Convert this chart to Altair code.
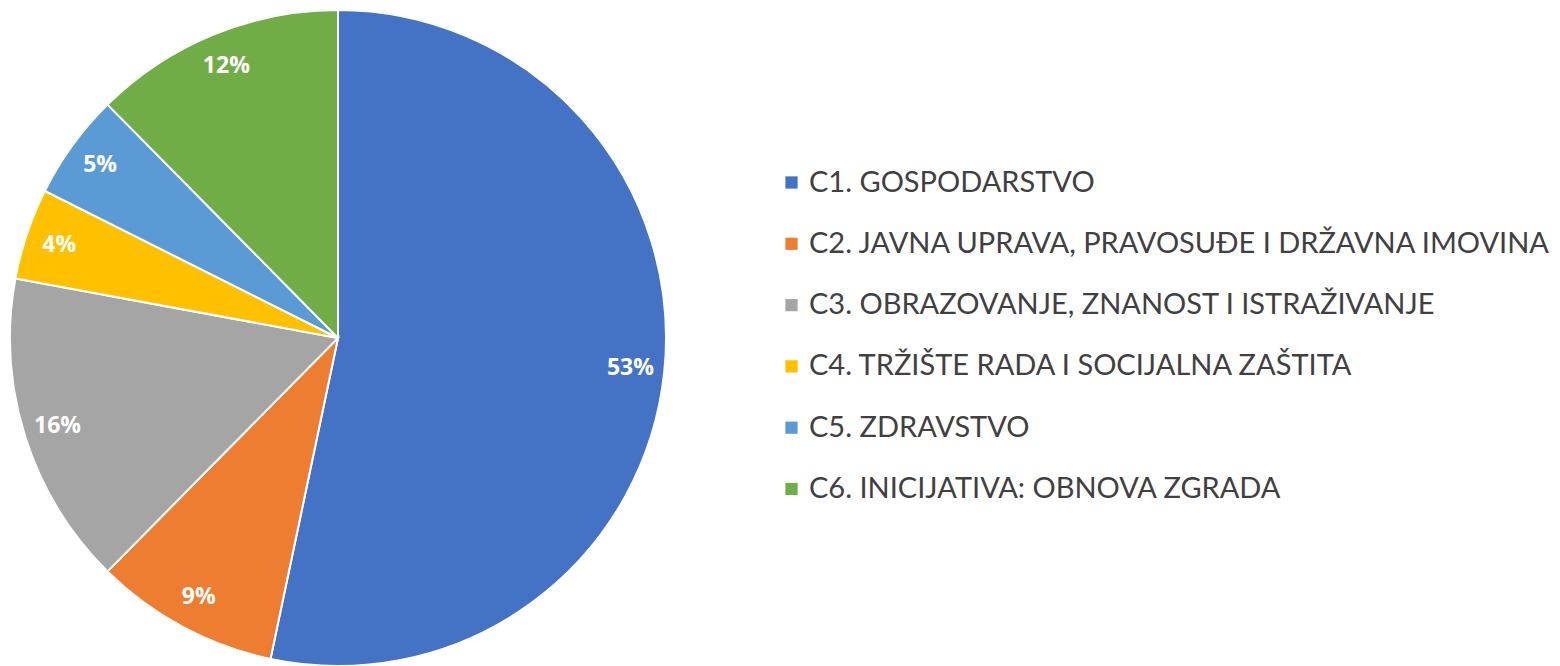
import altair as alt
import pandas as pd

categories = [
    "C1. GOSPODARSTVO",
    "C2. JAVNA UPRAVA, PRAVOSUĐE I DRŽAVNA IMOVINA",
    "C3. OBRAZOVANJE, ZNANOST I ISTRAŽIVANJE",
    "C4. TRŽIŠTE RADA I SOCIJALNA ZAŠTITA",
    "C5. ZDRAVSTVO",
    "C6. INICIJATIVA: OBNOVA ZGRADA",
]
values = [53.3, 9.1, 15.5, 4.5, 5.2, 12.4]
labels = ["53%", "9%", "16%", "4%", "5%", "12%"]
colors = ["#4472C4", "#ED7D31", "#A5A5A5", "#FFC000", "#5B9BD5", "#70AD47"]

df = pd.DataFrame({
    "cat": categories,
    "value": values,
    "label": labels,
    "order": list(range(len(categories))),
})

base = alt.Chart(df).encode(
    theta=alt.Theta("value:Q", stack=True),
    order=alt.Order("order:Q", sort="ascending"),
    x=alt.value(338),
    y=alt.value(338),
)

pie = base.mark_arc(radius=328, stroke="white", strokeWidth=2).encode(
    color=alt.Color(
        "cat:N",
        scale=alt.Scale(domain=categories, range=colors),
        sort=categories,
        legend=alt.Legend(
            title=None,
            orient="none",
            legendX=777,
            legendY=168,
            symbolType="square",
            symbolSize=150,
            symbolStrokeWidth=0,
            labelFont="Lato",
            labelFontSize=29,
            labelColor="#404040",
            labelLimit=900,
            rowPadding=31.3,
            labelOffset=3,
        ),
    )
)

text = base.mark_text(
    radius=294, font="Open Sans", fontSize=23, fontWeight="bold", color="white"
).encode(text="label:N")

chart = (
    (pie + text)
    .properties(width=1560, height=666, padding=0, autosize=alt.AutoSizeParams(type="none"))
    .configure_view(stroke=None)
)

chart.save("out.html", embed_options={"renderer": "svg", "actions": False})
